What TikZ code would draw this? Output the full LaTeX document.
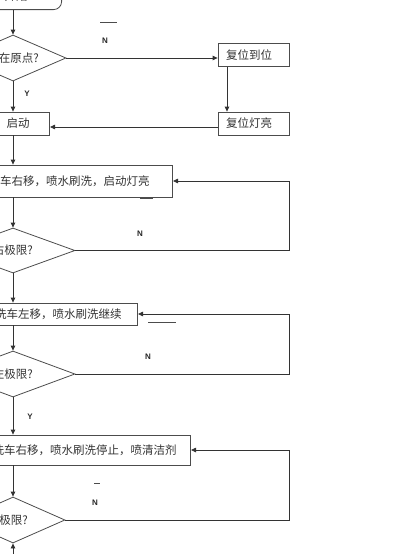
\documentclass[tikz,border=0pt]{standalone}
\usepackage{fontspec}
\newfontfamily\cjk{Noto Sans CJK SC}
\newfontfamily\lat{Liberation Sans}
\usetikzlibrary{positioning,arrows.meta,shapes.geometric}

\begin{document}
\begin{tikzpicture}[x=1pt,y=-1pt,
  box/.style={draw=black!70,line width=0.8pt,fill=white,font=\fontsize{11.5}{13}\selectfont\cjk,text=black!80},
  dia/.style={draw=black!70,line width=0.8pt,diamond,inner sep=0pt},
  txt/.style={font=\fontsize{11.5}{13}\selectfont\cjk,text=black!80,inner sep=0pt},
  lbl/.style={font=\fontsize{8}{9}\selectfont\lat\bfseries,text=black!85},
  arr/.style={draw=black!80,line width=0.8pt,-{Triangle[length=5pt,width=4.5pt]}},
  stroke/.style={draw=black!70,line width=0.8pt}]
\useasboundingbox (0,0) rectangle (400,554);
\clip (0,0) rectangle (400,554);

% start, origin check, reset
\node[box,rounded corners=8pt,anchor=south east,inner xsep=34pt,minimum height=26pt] (start) at (62,10) {开始};
\node[dia,minimum width=106pt,minimum height=46pt] (d1) at (13,58) {};
\node[txt,anchor=east] (d1t) at (39,58) {在原点?};
\node[box,anchor=east,inner xsep=20pt,minimum height=23pt] (go) at (50,123.5) {启动};
\node[box,text width=55pt,align=left,inner xsep=8pt,minimum height=23pt] (r1) at (253.5,55) {复位到位};
\node[box,text width=55pt,align=left,inner xsep=8pt,minimum height=23pt] (r2) at (253.5,123.5) {复位灯亮};

\draw[arr] (d1.north |- start.south) -- (d1.north);
\draw[arr] (d1.east) -- (d1.east -| r1.west);
\draw[arr] ([xshift=-26.5pt]r1.south) -- ([xshift=-26.5pt]r2.north);
\draw[arr] ([yshift=-3.5pt]r2.west) -- ([yshift=-3.5pt]r2.west -| go.east);
\draw[arr] (d1.south) -- (d1.south |- go.north);
\node[lbl] (n1) at (105,41) {N};
\node[lbl] (y1) at (27,94) {Y};
\draw[stroke] (100,22) -- (117,22);

% right move
\node[box,anchor=east,inner xsep=23pt,minimum height=32pt] (b2) at (173,181) {车右移，喷水刷洗，启动灯亮};
\node[dia,minimum width=124pt,minimum height=45pt] (d2) at (13,250.5) {};
\node[txt,anchor=east] (d2t) at (33,250.5) {右极限?};
\draw[arr] (d2.north |- go.south) -- (d2.north |- b2.north);
\draw[arr] (d2.north |- b2.south) -- (d2.north);
\draw[arr] (d2.east) -| ([xshift=116pt]b2.east) -- (b2.east);
\node[lbl] (n2) at (140,234) {N};
\draw[stroke] (140,198) -- (153,198);

% left move
\node[box,anchor=east,inner xsep=16pt,minimum height=22pt] (b3) at (138,314) {洗车左移，喷水刷洗继续};
\node[dia,minimum width=124pt,minimum height=46pt] (d3) at (13,374) {};
\node[txt,anchor=east] (d3t) at (33,374) {左极限?};
\draw[arr] (d2.south) -- (d2.south |- b3.north);
\draw[arr] (d3.north |- b3.south) -- (d3.north);
\draw[arr] (d3.east) -| ([xshift=151pt]b3.east) -- (b3.east);
\node[lbl] (n3) at (148,357) {N};
\node[lbl] (y3) at (30,417) {Y};
\draw[stroke] (148,322) -- (176,322);

% right move, detergent
\node[box,anchor=east,inner xsep=14pt,minimum height=30pt] (b4) at (191,450) {洗车右移，喷水刷洗停止，喷清洁剂};
\node[dia,minimum width=104pt,minimum height=46pt] (d4) at (13,520) {};
\node[txt,anchor=east] (d4t) at (28,520) {极限?};
\coordinate (bot) at (13,562);
\draw[arr] (d3.south) -- (d3.south |- b4.north);
\draw[arr] (d4.north |- b4.south) -- (d4.north);
\draw[arr] (d4.east) -| ([xshift=98pt]b4.east) -- (b4.east);
\draw[arr] (bot) -- (d4.south);
\node[lbl] (n4) at (95,503) {N};
\draw[stroke] (94,483) -- (100,483);
\end{tikzpicture}
\end{document}
